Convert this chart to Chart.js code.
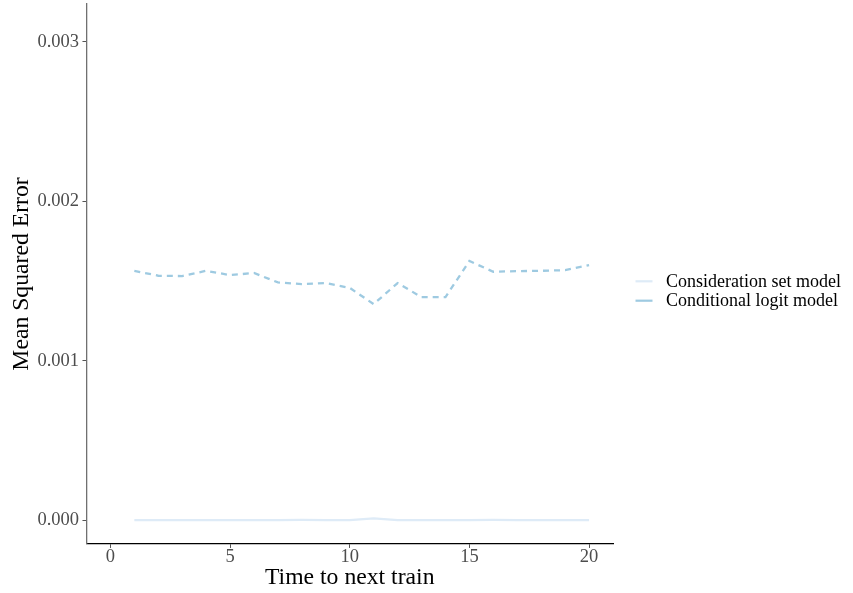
<!DOCTYPE html>
<html>
<head>
<meta charset="utf-8">
<script src="https://cdn.jsdelivr.net/npm/chart.js@4.4.1/dist/chart.umd.min.js"></script>
<style>
  html, body { margin: 0; padding: 0; background: #fff; }
  canvas { display: block; }
</style>
</head>
<body>
<canvas id="c" width="853" height="593"></canvas>
<script>
// Time to next train (x values)
const times = [1, 2, 3, 4, 5, 6, 7, 8, 9, 10, 11, 12, 13, 14, 15, 16, 17, 18, 19, 20];

// Mean squared error
const considerationSet = [0.000002, 0.000001, 0.000001, 0.000002, 0.000002, 0.000001, 0.000001, 0.000003, 0.000002, 0.000001,
                          0.000012, 0.000002, 0.000001, 0.000001, 0.000001, 0.000003, 0.000002, 0.000002, 0.000001, 0.000001];
const conditionalLogit = [0.001564, 0.001533, 0.001531, 0.001564, 0.001537, 0.001550, 0.001491, 0.001481, 0.001487, 0.001457,
                          0.001355, 0.001487, 0.001399, 0.001399, 0.001625, 0.001558, 0.001562, 0.001564, 0.001568, 0.001600];

const xTicks = [0, 5, 10, 15, 20];
const yTicks = [0, 0.001, 0.002, 0.003];

const serif = "'Liberation Serif', 'DejaVu Serif', serif";

const toPoints = (vals) => vals.map((v, i) => ({ x: times[i], y: v }));

// tick labels sit inside the range, so drop the extra edge padding
const noEdgePad = (axis) => {
  axis.paddingTop = 0;
  axis.paddingBottom = 0;
  axis.paddingLeft = 0;
  axis.paddingRight = 0;
};

// ggplot-style legend to the right of the panel
const sideLegend = {
  id: "sideLegend",
  afterDraw(chart) {
    const ctx = chart.ctx;
    const area = chart.chartArea;
    const x0 = area.right + 22.5;
    const y0 = chart.height / 2 - 15.2;
    ctx.save();
    ctx.font = "18px " + serif;
    ctx.textBaseline = "middle";
    ctx.textAlign = "left";
    chart.data.datasets.forEach((ds, i) => {
      const y = y0 + i * 19.4;
      ctx.strokeStyle = ds.borderColor;
      ctx.lineWidth = 2.2;
      ctx.setLineDash([]);
      ctx.beginPath();
      ctx.moveTo(x0, y);
      ctx.lineTo(x0 + 17, y);
      ctx.stroke();
      ctx.fillStyle = "#000";
      ctx.fillText(ds.label, x0 + 30.5, y + 0.5);
    });
    ctx.restore();
  }
};

new Chart(document.getElementById("c").getContext("2d"), {
  type: "line",
  data: {
    datasets: [
      {
        label: "Consideration set model",
        data: toPoints(considerationSet),
        borderColor: "#deebf7",
        borderWidth: 2.2,
        pointRadius: 0,
        tension: 0
      },
      {
        label: "Conditional logit model",
        data: toPoints(conditionalLogit),
        borderColor: "#9ecae1",
        borderWidth: 2.3,
        borderDash: [6, 5],
        pointRadius: 0,
        tension: 0
      }
    ]
  },
  options: {
    responsive: false,
    animation: false,
    layout: { padding: { top: 4, right: 240, bottom: 1.7, left: 3.7 } },
    scales: {
      x: {
        type: "linear",
        min: -1,
        max: 21,
        afterBuildTicks: (axis) => { axis.ticks = xTicks.map(v => ({ value: v })); },
        afterFit: noEdgePad,
        grid: { drawOnChartArea: false, drawTicks: true, tickLength: 4, tickColor: "#555555" },
        border: { color: "#000000", width: 1.3 },
        ticks: { color: "#4d4d4d", font: { family: serif, size: 18.5 }, padding: -2, maxRotation: 0 },
        title: { display: true, text: "Time to next train", color: "#000", font: { family: serif, size: 23.7 }, padding: { top: -2.2, bottom: -1.1 } }
      },
      y: {
        type: "linear",
        min: -0.000148,
        max: 0.003236,
        afterBuildTicks: (axis) => { axis.ticks = yTicks.map(v => ({ value: v })); },
        afterFit: noEdgePad,
        grid: { drawOnChartArea: false, drawTicks: true, tickLength: 4, tickColor: "#555555" },
        border: { color: "#707070", width: 1.3 },
        ticks: { color: "#4d4d4d", font: { family: serif, size: 18.5 }, padding: 3.4, callback: (v) => v.toFixed(3) },
        title: { display: true, text: "Mean Squared Error", color: "#000", font: { family: serif, size: 23.7 }, padding: { top: 3.6, bottom: -1.7 } }
      }
    },
    plugins: {
      legend: { display: false },
      tooltip: { enabled: false }
    }
  },
  plugins: [sideLegend]
});
</script>
</body>
</html>
